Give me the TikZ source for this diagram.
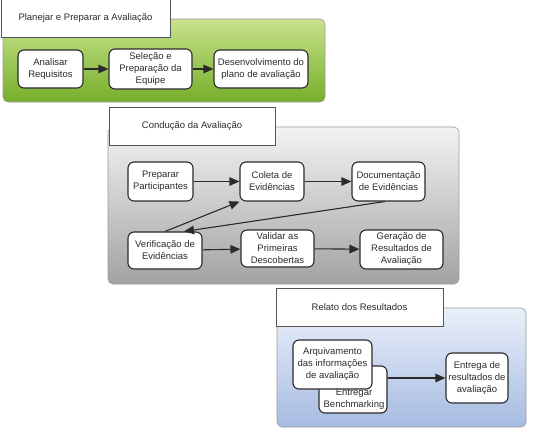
\documentclass[tikz,border=0pt]{standalone}
\usepackage{fontspec}
\setmainfont{Liberation Sans}
\usetikzlibrary{positioning,arrows.meta}
\definecolor{ink}{HTML}{2B2B2B}
\definecolor{frame}{HTML}{9A9A9A}
\definecolor{leafhi}{HTML}{C8E28C}
\definecolor{leaflo}{HTML}{76AE2A}
\definecolor{ashhi}{HTML}{F3F3F3}
\definecolor{ashlo}{HTML}{A2A2A2}
\definecolor{skyhi}{HTML}{EAF0FA}
\definecolor{skylo}{HTML}{A6BBE2}

\begin{document}
\begin{tikzpicture}[
  x=1pt, y=-1pt,
  font=\fontsize{9.5}{12}\selectfont,
  >={Triangle[length=10pt,width=8.5pt]},
  stepbox/.style={draw=ink, fill=white, line width=1.1pt,
                  rounded corners=6pt, align=center,
                  inner sep=1pt, text=ink},
  title/.style={draw=ink!80, fill=white, line width=0.7pt,
                minimum height=38pt, inner sep=1pt, text=ink},
  panel/.style={draw=frame, line width=0.6pt, rounded corners=5pt},
  flow/.style={->, line width=1.1pt, draw=ink},
]
\useasboundingbox (0,0) rectangle (534,431);

% planejar
\draw[panel, top color=leafhi, bottom color=leaflo] (3,19) rectangle (325,102);
\node[title, minimum width=169pt] (t1) at (85.5,18) {Planejar e Preparar a Avaliação};

\node[stepbox, minimum width=65pt, minimum height=38pt] (req) at (50.5,69) {Analisar\\Requisitos};
\node[stepbox, minimum width=83pt, minimum height=40pt] (equipe) at (150.5,69) {Seleção e\\Preparação da\\Equipe};
\node[stepbox, minimum width=94pt, minimum height=38pt] (plano) at (261,69) {Desenvolvimento do\\plano de avaliação};

\draw[flow] (req) -- (equipe);
\draw[flow] (equipe) -- (plano);

% conducao
\draw[panel, top color=ashhi, bottom color=ashlo] (108,127) rectangle (459,284);
\node[title, minimum width=166pt] (t2) at (192,126) {Condução da Avaliação};

\node[stepbox, minimum width=65pt, minimum height=39pt] (prep) at (160.5,181.5) {Preparar\\Participantes};
\node[stepbox, minimum width=64pt, minimum height=39pt] (coleta) at (272,181.5) {Coleta de\\Evidências};
\node[stepbox, minimum width=73pt, minimum height=39pt] (doc) at (388.5,181.5) {Documentação\\de Evidências};
\node[stepbox, minimum width=74pt, minimum height=37pt] (verif) at (165,250.5) {Verificação de\\Evidências};
\node[stepbox, minimum width=73pt, minimum height=37pt] (valid) at (277.5,248.5) {Validar as\\Primeiras\\Descobertas};
\node[stepbox, minimum width=83pt, minimum height=39pt] (ger) at (401.5,249.5) {Geração de\\Resultados de\\Avaliação};

\draw[flow] (prep) -- (coleta);
\draw[flow] (coleta) -- (doc);
\draw[flow] (doc.260) -- (verif.45);
\draw[flow] (verif.north) -- (coleta.south west);
\draw[flow] (verif) -- (valid);
\draw[flow] (valid) -- (ger);

% relato
\draw[panel, top color=skyhi, bottom color=skylo] (277,308) rectangle (526,427);
\node[title, minimum width=167pt] (t3) at (359.5,307) {Relato dos Resultados};

\node[stepbox, minimum width=68pt, minimum height=47pt] (bench) at (353,389.5) {};
\node[text=ink, align=center] (benchtxt) at (354,399.5) {Entregar\\Benchmarking};
\node[stepbox, minimum width=79pt, minimum height=49pt] (arq) at (332.5,364.5) {Arquivamento\\das informações\\de avaliação};
\node[stepbox, minimum width=62pt, minimum height=50pt] (entrega) at (477,378) {Entrega de\\resultados de\\avaliação};

\draw[flow] (bench.east |- entrega.west) -- (entrega.west);
\end{tikzpicture}
\end{document}
